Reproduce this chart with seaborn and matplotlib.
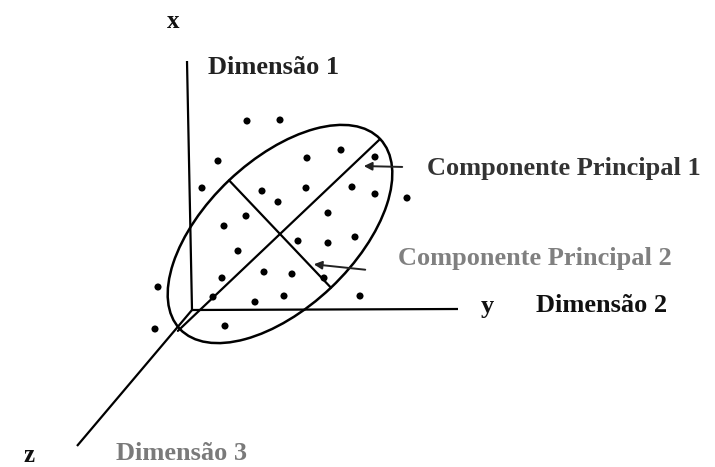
import numpy as np
import pandas as pd
import matplotlib.pyplot as plt
import seaborn as sns
from matplotlib.patches import Ellipse

# Observations drawn on the sketch (picture coordinates, y grows downward)
dot_x = [247, 280, 218, 307, 341, 375, 202, 262, 306, 352, 375, 278, 407,
         246, 328, 224, 355, 298, 328, 238, 264, 292, 222, 324, 158, 213,
         284, 360, 255, 225, 155]
dot_y = [121, 120, 161, 158, 150, 157, 188, 191, 188, 187, 194, 202, 198,
         216, 213, 226, 237, 241, 243, 251, 272, 274, 278, 278, 287, 297,
         296, 296, 302, 326, 329]

# Axes of the 3D frame: start and end points
axis_names = ["x", "y", "z"]
axis_x0 = [192, 192, 192]
axis_y0 = [310, 310, 310]
axis_x1 = [187, 458, 77]
axis_y1 = [61, 309, 446]

# Principal components: center, half lengths and tilt
pc_center = (280, 234)
pc_half = [138, 74]
pc_angle = 43.5

axis_labels = ["Dimensão 1", "Dimensão 2", "Dimensão 3"]
pc_labels = ["Componente Principal 1", "Componente Principal 2"]

df = pd.DataFrame({"px": dot_x, "py": dot_y})

sns.set_style("white")
plt.rcParams["font.family"] = ["Liberation Serif", "DejaVu Serif"]

fig = plt.figure(figsize=(7.15, 4.67), dpi=100)
ax = fig.add_axes([0, 0, 1, 1])
ax.set_xlim(0, 715)
ax.set_ylim(467, 0)
ax.axis("off")

# frame axes
for i in range(3):
    ax.plot([axis_x0[i], axis_x1[i]], [axis_y0[i], axis_y1[i]],
            color="black", lw=1.6, solid_capstyle="butt")

# ellipse and component lines
t = np.radians(pc_angle)
u = np.array([np.cos(t), -np.sin(t)])   # major direction (screen up-right)
v = np.array([np.sin(t), np.cos(t)])    # minor direction
c = np.array(pc_center)
ax.add_patch(Ellipse(pc_center, 2 * pc_half[0], 2 * pc_half[1], angle=-pc_angle,
                     fill=False, ec="black", lw=1.8))
p1a, p1b = c - u * pc_half[0] * 1.02, c + u * pc_half[0]
p2a, p2b = c - v * pc_half[1], c + v * pc_half[1]
ax.plot([p1a[0], p1b[0]], [p1a[1], p1b[1]], color="black", lw=1.6)
ax.plot([p2a[0], p2b[0]], [p2a[1], p2b[1]], color="black", lw=1.6)

sns.scatterplot(data=df, x="px", y="py", ax=ax, color="black", s=26,
                edgecolor="none", legend=False)

# axis letters
ax.text(173, 22, axis_names[0], fontsize=18, fontweight="bold", color="#111111",
        ha="center", va="center")
ax.text(487, 306, axis_names[1], fontsize=19, fontweight="bold", color="#111111",
        ha="center", va="center")
ax.text(29, 455, axis_names[2], fontsize=18, fontweight="bold", color="#111111",
        ha="center", va="center")

# dimension labels
ax.text(208, 68, axis_labels[0], fontsize=19, fontweight="bold", color="#222222",
        va="center")
ax.text(536, 306, axis_labels[1], fontsize=19, fontweight="bold", color="#111111",
        va="center")
ax.text(116, 454, axis_labels[2], fontsize=19, fontweight="bold", color="#7a7a7a",
        va="center")

# component labels with arrows
ax.annotate("", xy=(361, 166), xytext=(405, 167),
            arrowprops=dict(arrowstyle="-|>", color="#222222", lw=1.4,
                            mutation_scale=12))
ax.annotate("", xy=(311, 264), xytext=(368, 270),
            arrowprops=dict(arrowstyle="-|>", color="#222222", lw=1.4,
                            mutation_scale=12))
ax.text(427, 168, pc_labels[0], fontsize=19, fontweight="bold", color="#333333",
        va="center")
ax.text(398, 258, pc_labels[1], fontsize=19, fontweight="bold", color="#808080",
        va="center")

ax.set_xlabel("")
ax.set_ylabel("")
fig.savefig("out.png", dpi=100, facecolor="white")
